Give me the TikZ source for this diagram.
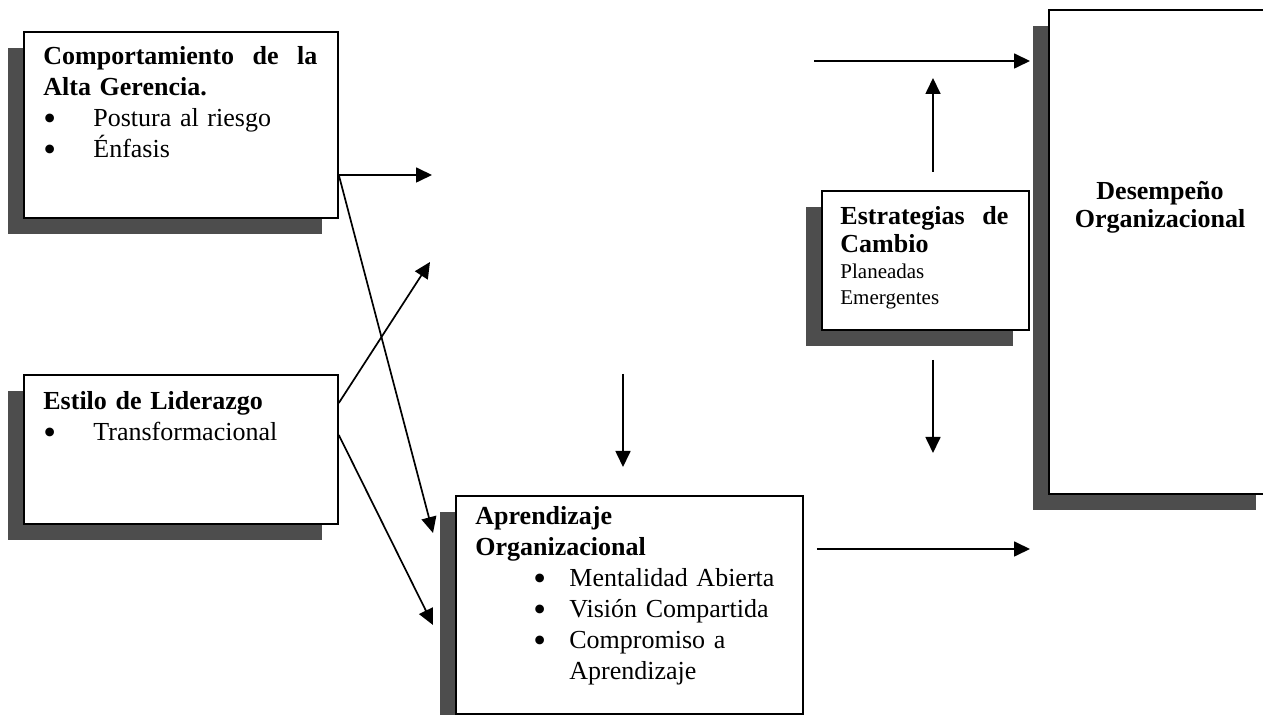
\documentclass[tikz,border=0pt]{standalone}
\usepackage{fontspec}
\setmainfont{Liberation Serif}
\usetikzlibrary{arrows.meta,shadows}
\definecolor{shadowgray}{RGB}{77,77,77}
% bullet line: indent, bullet box width, text
\newcommand{\itm}[3]{\par\hspace*{#1}\makebox[#2][l]{\raisebox{-0.13em}{\scalebox{1.4}{\textbullet}}}#3}

\begin{document}
\begin{tikzpicture}[x=0.5pt,y=-0.5pt,>={Triangle[length=8pt,width=7.5pt]},
  box/.style={draw,line width=0.9pt,fill=white,anchor=north west,inner sep=0pt,
    drop shadow={shadow xshift=-8pt,shadow yshift=-8pt,fill=shadowgray,opacity=1}},
  txt/.style={anchor=base west,inner sep=0pt,align=left,font=\fontsize{13}{15.5}\selectfont},
  conn/.style={->,line width=0.85pt}]

\useasboundingbox (0,0) rectangle (1263,715);

\node[box,minimum width=157pt,minimum height=93pt] (gerencia) at (23,31) {};
\node[txt,text width=137pt] (gerenciaT) at (43,65)
  {\hbox to 137pt{\bfseries Comportamiento\hfill de\hfill la}\par
   \textbf{Alta Gerencia.}\itm{0pt}{25pt}{Postura al riesgo}\itm{0pt}{25pt}{Énfasis}};

\node[box,minimum width=157pt,minimum height=74.5pt] (liderazgo) at (23,374) {};
\node[txt,text width=137pt] (liderazgoT) at (43,410)
  {\textbf{Estilo de Liderazgo}\itm{0pt}{25pt}{Transformacional}};

\node[box,minimum width=173.5pt,minimum height=109pt] (aprendizaje) at (455,495) {};
\node[txt,text width=153.5pt] (aprendizajeT) at (475,525)
  {\textbf{Aprendizaje}\par\textbf{Organizacional}
   \itm{29pt}{18pt}{Mentalidad Abierta}\itm{29pt}{18pt}{Visión Compartida}
   \itm{29pt}{18pt}{Compromiso a}\par\hspace*{47pt}Aprendizaje};

\node[box,minimum width=103.5pt,minimum height=69.5pt] (estrategias) at (821,190) {};
\node[txt,text width=84pt] (estrategiasT) at (840,225)
  {{\fontsize{13}{14}\selectfont\bfseries\hbox to 84pt{Estrategias\hfill de}\par Cambio\par}
   {\fontsize{10.5}{13}\selectfont Planeadas\par Emergentes\par}};

\node[box,minimum width=111.5pt,minimum height=242pt] (desempeno) at (1048,9) {};
\node[txt,anchor=base,text width=105pt,align=center,font=\fontsize{13}{14}\selectfont\bfseries]
  (desempenoT) at (1160,200) {Desempeño\\Organizacional};

% connectors
\coordinate (g1) at (432,175);
\coordinate (a1) at (433,533);
\coordinate (l1) at (430,262);
\coordinate (a2) at (433,625);
\draw[conn] (gerencia.east |- g1) -- (g1);
\draw[conn] (gerencia.east |- g1) -- (a1);
\draw[conn] (liderazgo.east |- 0,403) -- (l1);
\draw[conn] (liderazgo.east |- 0,435) -- (a2);

\coordinate (v1s) at (623,374);
\coordinate (v1e) at (623,467);
\draw[conn] (v1s) -- (v1e);

\coordinate (u1s) at (933,172);
\coordinate (u1e) at (933,78);
\draw[conn] (u1s) -- (u1e);
\coordinate (d1s) at (933,360);
\coordinate (d1e) at (933,453);
\draw[conn] (d1s) -- (d1e);

\coordinate (e1) at (814,61);
\draw[conn,shorten >=9pt] (e1) -- (e1 -| desempeno.west);
\draw[conn,shorten <=6.5pt,shorten >=9pt] (aprendizaje.east |- 0,549) -- (desempeno.west |- 0,549);

\end{tikzpicture}
\end{document}
